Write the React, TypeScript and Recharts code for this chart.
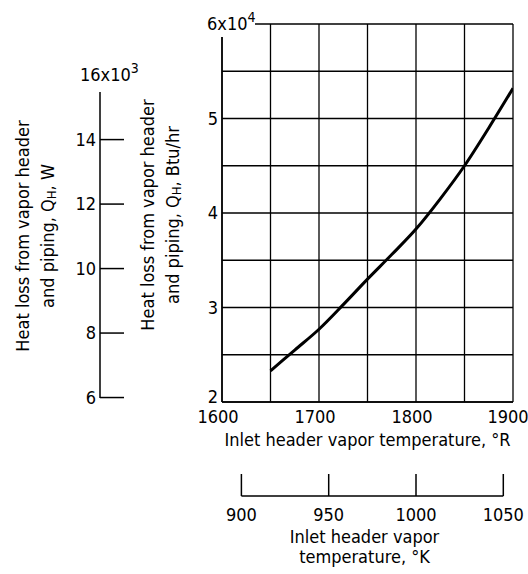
import { ComposedChart, Line, XAxis, YAxis, CartesianGrid } from "recharts";

// inlet header vapor temperature, °R
const tempR = [1650, 1675, 1700, 1725, 1750, 1775, 1800, 1825, 1850, 1875, 1900];
// heat loss Q_H, x10^4 Btu/hr
const heatLossBtu = [2.33, 2.55, 2.77, 3.03, 3.3, 3.56, 3.83, 4.15, 4.5, 4.9, 5.32];

const rTicks = [1600, 1650, 1700, 1750, 1800, 1850, 1900];
const btuTicks = [2, 2.5, 3, 3.5, 4, 4.5, 5, 5.5, 6];
const wTicks = [6, 8, 10, 12, 14, 16];
const kTicks = [900, 950, 1000, 1050];

const BTU_PER_W = 3.412;
const R_PER_K = 1.8;

const rDomain = [1600, 1900];
const btuDomain = [2, 6];
// x10^4 Btu/hr -> x10^3 W
const wDomain = btuDomain.map((v) => (v * 10) / BTU_PER_W);
const kDomain = rDomain.map((v) => v / R_PER_K);

const data = tempR.map((t, i) => ({ t, k: t / R_PER_K, q: heatLossBtu[i] }));

const FONT = "'Liberation Sans Narrow', 'DejaVu Sans Condensed', sans-serif";
const FS = 18;

function BtuTick({ x, y, payload }: any) {
  const v = payload.value;
  if (v === 6) {
    return (
      <g>
        <rect x={x - 15} y={y - 13} width={48} height={26} fill="#fff" />
        <text x={x - 15} y={y + 6} fontSize={FS} fill="#000">
          6x10<tspan dy={-8} fontSize={14}>4</tspan>
        </text>
      </g>
    );
  }
  if (!Number.isInteger(v)) return null;
  return (
    <text x={x - 4} y={y + (v === 2 ? 1 : 6)} textAnchor="end" fontSize={FS} fill="#000">
      {v}
    </text>
  );
}

function WTick({ x, y, payload }: any) {
  const v = payload.value;
  if (v === 16) {
    return (
      <text x={x - 20} y={y + 6} fontSize={FS} fill="#000">
        16x10<tspan dy={-8} fontSize={14}>3</tspan>
      </text>
    );
  }
  return (
    <g>
      <line x1={x} x2={x + 24} y1={y} y2={y} stroke="#000" strokeWidth={1.5} />
      <text x={x - 4} y={y + 6} textAnchor="end" fontSize={FS} fill="#000">
        {v}
      </text>
    </g>
  );
}

function RTick({ x, y, payload }: any) {
  const v = payload.value;
  if (v % 100 !== 0) return null;
  return (
    <text x={x - 4} y={y + 21} textAnchor="middle" fontSize={FS} fill="#000">
      {v}
    </text>
  );
}

function KTick({ x, y, payload }: any) {
  return (
    <g>
      <line x1={x} x2={x} y1={y} y2={y - 22} stroke="#000" strokeWidth={1.5} />
      <text x={x} y={y + 25} textAnchor="middle" fontSize={FS} fill="#000">
        {payload.value}
      </text>
    </g>
  );
}

function VTitle({ cx, cy, lines }: { cx: number[]; cy: number; lines: React.ReactNode[] }) {
  return (
    <g>
      {lines.map((l, i) => (
        <text
          key={i}
          x={cx[i]}
          y={cy}
          transform={`rotate(-90, ${cx[i]}, ${cy})`}
          textAnchor="middle"
          dominantBaseline="central"
          fontSize={FS}
          fill="#000"
        >
          {l}
        </text>
      ))}
    </g>
  );
}

const qh = (unit: string) => (
  <>
    and piping, Q<tspan dy={4} fontSize={13}>H</tspan>
    <tspan dy={-4}>,  {unit}</tspan>
  </>
);

export default function App() {
  return (
    <div style={{ position: "absolute", left: 0, top: 0, background: "#fff", fontFamily: FONT }}>
      <ComposedChart
        width={528}
        height={574}
        data={data}
        margin={{ top: 24, right: 15, bottom: 0, left: 0 }}
        style={{ fontFamily: FONT }}
      >
        <CartesianGrid xAxisId="a_r" yAxisId="a_btu" stroke="#000" strokeWidth={1.3} strokeOpacity={1} />
        <XAxis
          xAxisId="a_r"
          dataKey="t"
          type="number"
          domain={rDomain}
          ticks={rTicks}
          allowDataOverflow
          height={94}
          tickSize={0}
          tickMargin={0}
          tickLine={false}
          axisLine={{ stroke: "#000", strokeWidth: 1.5 }}
          tick={<RTick />}
          label={({ viewBox }: any) => (
            <text
              x={viewBox.x + viewBox.width / 2}
              y={viewBox.y + 44}
              textAnchor="middle"
              fontSize={FS}
              fill="#000"
            >
              Inlet header vapor temperature,  °R
            </text>
          )}
        />
        <XAxis
          xAxisId="b_k"
          dataKey="k"
          type="number"
          domain={kDomain}
          ticks={kTicks}
          allowDataOverflow
          height={78}
          tickSize={0}
          tickMargin={0}
          tickLine={false}
          axisLine={{ stroke: "#000", strokeWidth: 1.5, strokeDasharray: "0 19.4 261.9 1000" }}
          tick={<KTick />}
          label={({ viewBox }: any) => (
            <g>
              <text x={viewBox.x + viewBox.width / 2 - 3} y={viewBox.y + 47} textAnchor="middle" fontSize={FS} fill="#000">
                Inlet header vapor
              </text>
              <text x={viewBox.x + viewBox.width / 2 - 3} y={viewBox.y + 67} textAnchor="middle" fontSize={FS} fill="#000">
                temperature,  °K
              </text>
            </g>
          )}
        />
        <YAxis
          yAxisId="a_btu"
          type="number"
          domain={btuDomain}
          ticks={btuTicks}
          allowDataOverflow
          width={122}
          tickSize={0}
          tickMargin={0}
          tickLine={false}
          axisLine={{ stroke: "#000", strokeWidth: 1.5 }}
          tick={<BtuTick />}
          label={({ viewBox }: any) => (
            <VTitle
              cx={[viewBox.x + 47, viewBox.x + 72]}
              cy={215}
              lines={["Heat loss from vapor header", qh("Btu/hr")]}
            />
          )}
        />
        <YAxis
          yAxisId="b_w"
          type="number"
          domain={wDomain}
          ticks={wTicks}
          allowDataOverflow
          width={100}
          tickSize={0}
          tickMargin={0}
          tickLine={false}
          axisLine={{ stroke: "#000", strokeWidth: 1.5, strokeDasharray: "0 68 306 1000" }}
          tick={<WTick />}
          label={({ viewBox }: any) => (
            <VTitle cx={[viewBox.x + 22, viewBox.x + 47]} cy={236} lines={["Heat loss from vapor header", qh("W")]} />
          )}
        />
        <Line
          xAxisId="a_r"
          yAxisId="a_btu"
          dataKey="q"
          type="monotone"
          stroke="#000"
          strokeWidth={3}
          dot={false}
          isAnimationActive={false}
        />
      </ComposedChart>
    </div>
  );
}
